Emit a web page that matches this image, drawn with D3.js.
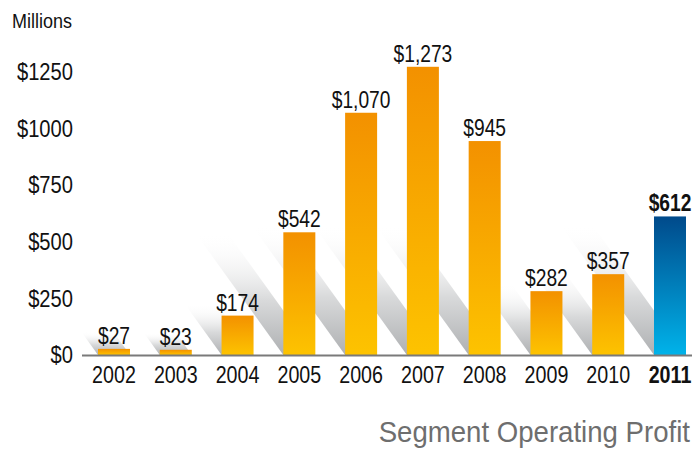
<!DOCTYPE html>
<html>
<head>
<meta charset="utf-8">
<script src="https://cdn.jsdelivr.net/npm/d3@7"></script>
<style>
  body { margin: 0; background: #fff; }
  svg { display: block; }
  text { font-family: "Liberation Sans", Arial, sans-serif; }
</style>
</head>
<body>
<svg></svg>
<script>
//	data
var years = ["2002", "2003", "2004", "2005", "2006", "2007", "2008", "2009", "2010", "2011"];
var profit = [27, 23, 174, 542, 1070, 1273, 945, 282, 357, 612];
var valueLabels = ["$27", "$23", "$174", "$542", "$1,070", "$1,273", "$945", "$282", "$357", "$612"];
var tickValues = [0, 250, 500, 750, 1000, 1250];
var tickLabels = ["$0", "$250", "$500", "$750", "$1000", "$1250"];
var highlightYear = "2011";

var width = 697,
    height = 449;

var svg = d3.select("svg").attr("width", width).attr("height", height);

//	condensed look: squeeze each text horizontally around its own anchor x
function squeeze(sel, k) {
    sel.each(function() {
        var ax = +d3.select(this).attr("x") || 0;
        d3.select(this).attr("transform", "translate(" + (ax * (1 - k)) + ",0) scale(" + k + ",1)");
    });
}

//	scales
var x = d3.scaleBand()
    .domain(years)
    .range([98, 686])
    .paddingInner(0.482)
    .paddingOuter(0);

var y = d3.scaleLinear()
    .domain([0, 1250])
    .range([355, 72]);

//	gradients
var defs = svg.append("defs");

var orange = defs.append("linearGradient")
    .attr("id", "orange")
    .attr("x1", 0).attr("y1", 0).attr("x2", 0).attr("y2", 1);
orange.append("stop").attr("offset", "0%").attr("stop-color", "#f39100");
orange.append("stop").attr("offset", "100%").attr("stop-color", "#fdc300");

var blue = defs.append("linearGradient")
    .attr("id", "blue")
    .attr("x1", 0).attr("y1", 0).attr("x2", 0).attr("y2", 1);
blue.append("stop").attr("offset", "0%").attr("stop-color", "#004a8b");
blue.append("stop").attr("offset", "100%").attr("stop-color", "#00b3ea");

var shade = defs.append("linearGradient")
    .attr("id", "shade")
    .attr("x1", 0).attr("y1", 0).attr("x2", 0).attr("y2", 1);
shade.append("stop").attr("offset", "0%").attr("stop-color", "#ffffff").attr("stop-opacity", 0);
shade.append("stop").attr("offset", "55%").attr("stop-color", "#d9dadb").attr("stop-opacity", 1);
shade.append("stop").attr("offset", "100%").attr("stop-color", "#aeb0b2").attr("stop-opacity", 1);

var data = years.map(function(d, i) {
    return { year: d, value: profit[i], label: valueLabels[i] };
});

//	diagonal shadows behind the bars
var slant = 0.72;
svg.append("g").selectAll("polygon")
    .data(data)
    .enter().append("polygon")
    .attr("fill", "url(#shade)")
    .attr("points", function(d) {
        var x0 = x(d.year), x1 = x0 + x.bandwidth(), b = y(0);
        var h = y(0) - y(d.value);
        var L = Math.min(h * 0.85 + 18, 130);
        return [[x0, b], [x1, b], [x1 - L * slant, b - L], [x0 - L * slant, b - L]].join(" ");
    });

//	bars
svg.append("g").selectAll("rect")
    .data(data)
    .enter().append("rect")
    .attr("x", function(d) { return x(d.year); })
    .attr("y", function(d) { return y(d.value); })
    .attr("width", x.bandwidth())
    .attr("height", function(d) { return y(0) - y(d.value); })
    .attr("fill", function(d) { return d.year === highlightYear ? "url(#blue)" : "url(#orange)"; });

//	baseline
svg.append("line")
    .attr("x1", 82).attr("x2", 692)
    .attr("y1", y(0) + 0.5).attr("y2", y(0) + 0.5)
    .attr("stroke", "#7a7a7a")
    .attr("stroke-width", 2);

//	value labels
var vals = svg.append("g").selectAll("text")
    .data(data)
    .enter().append("text")
    .attr("x", function(d) { return x(d.year) + x.bandwidth() / 2; })
    .attr("y", function(d) { return y(d.value) - 5; })
    .attr("text-anchor", "middle")
    .attr("font-size", 24)
    .attr("font-weight", function(d) { return d.year === highlightYear ? "bold" : "normal"; })
    .attr("fill", "#111")
    .text(function(d) { return d.label; });
squeeze(vals, 0.8);

//	x axis
var xAxis = svg.append("g")
    .attr("transform", "translate(0," + y(0) + ")")
    .call(d3.axisBottom(x).tickSize(0).tickPadding(28));
xAxis.select(".domain").remove();
xAxis.selectAll("text")
    .attr("font-size", 24)
    .attr("font-family", null)
    .attr("fill", "#111")
    .attr("dy", 0)
    .attr("font-weight", function(d) { return d === highlightYear ? "bold" : "normal"; });
squeeze(xAxis.selectAll("text"), 0.82);

//	y axis
var yAxis = svg.append("g")
    .attr("transform", "translate(73,0)")
    .call(d3.axisLeft(y).tickValues(tickValues).tickSize(0).tickPadding(0)
        .tickFormat(function(d, i) { return tickLabels[i]; }));
yAxis.select(".domain").remove();
yAxis.selectAll("text")
    .attr("font-size", 24)
    .attr("font-family", null)
    .attr("fill", "#111");
squeeze(yAxis.selectAll("text"), 0.84);

//	unit label
var unit = svg.append("text")
    .attr("x", 12).attr("y", 28)
    .attr("font-size", 20)
    .attr("fill", "#111")
    .text("Millions");
squeeze(unit, 0.9);

//	title
var title = svg.append("text")
    .attr("x", 690).attr("y", 442)
    .attr("text-anchor", "end")
    .attr("font-size", 30)
    .attr("fill", "#6e6e6e")
    .text("Segment Operating Profit");
squeeze(title, 0.92);
</script>
</body>
</html>
